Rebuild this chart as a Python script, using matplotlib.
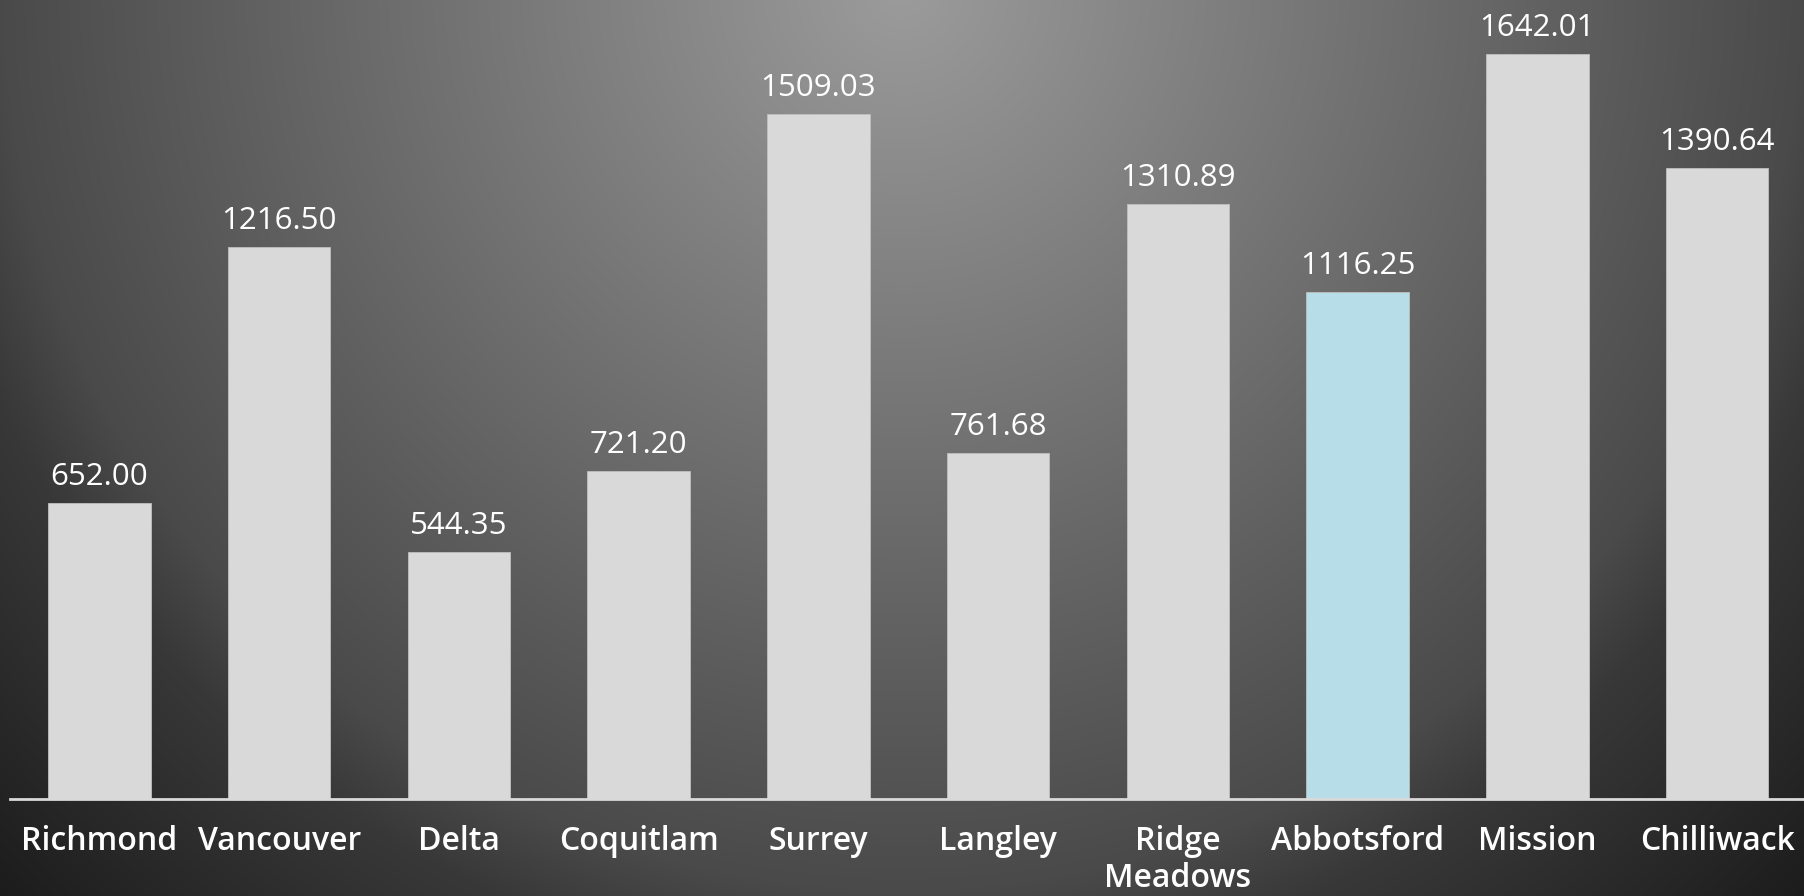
import numpy as np
import matplotlib
matplotlib.use("Agg")
import matplotlib.pyplot as plt

categories = ["Richmond", "Vancouver", "Delta", "Coquitlam", "Surrey", "Langley",
              "Ridge\nMeadows", "Abbotsford", "Mission", "Chilliwack"]
values = [652.00, 1216.50, 544.35, 721.20, 1509.03, 761.68, 1310.89, 1116.25, 1642.01, 1390.64]
highlight = "Abbotsford"

W, H = 1804, 896
fig = plt.figure(figsize=(W / 100, H / 100), dpi=100)

# radial gradient background
bg = fig.add_axes([0, 0, 1, 1], zorder=-10)
yy, xx = np.mgrid[0:H, 0:W]
cx, cy = 0.5 * W, -10
d = np.sqrt((xx - cx) ** 2 + (yy - cy) ** 2)
g = np.interp(d, [0, 450, 900, 990, 1280], [0.61, 0.45, 0.29, 0.22, 0.11])
img = np.dstack([g, g, g])
bg.imshow(img, aspect="auto", extent=[0, 1, 0, 1], origin="upper")
bg.axis("off")

ax = fig.add_axes([9.6 / W, 1 - 798.5 / H, (1807.0 - 9.6) / W, 798.5 / H])
ax.patch.set_alpha(0)
x = np.arange(len(categories))
colors = ["#b7dde8" if c == highlight else "#d9d9d9" for c in categories]
bars = ax.bar(x, values, width=0.57, color=colors, edgecolor="#bfbfbf", linewidth=0.6, zorder=2)
ax.set_xlim(-0.5, len(categories) - 0.5)
ax.set_ylim(0, 1761)

for xi, v in zip(x, values):
    ax.annotate(f"{v:.2f}", (xi, v), xytext=(0, 8), textcoords="offset points",
                ha="center", va="bottom", color="white", fontsize=22.5,
                family="Open Sans", fontweight="medium")

for s in ["top", "right", "left"]:
    ax.spines[s].set_visible(False)
ax.spines["bottom"].set_color("#d9d9d9")
ax.spines["bottom"].set_linewidth(2)
ax.set_yticks([])
ax.set_xticks(x)
ax.set_xticklabels(categories, color="white", fontsize=23, family="Open Sans",
                   fontweight="semibold", linespacing=1.17)
ax.tick_params(axis="x", length=0, pad=19)

fig.savefig("out.png", dpi=100)
